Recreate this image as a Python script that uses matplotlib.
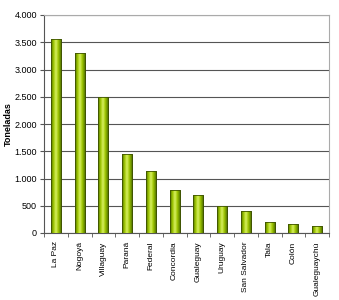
import numpy as np
import matplotlib.pyplot as plt
from matplotlib.colors import LinearSegmentedColormap
from matplotlib.ticker import FuncFormatter, FixedLocator

departamentos = ['La Paz', 'Nogoyá', 'Villaguay', 'Paraná', 'Federal', 'Concordia',
                 'Gualeguay', 'Uruguay', 'San Salvador', 'Tala', 'Colón', 'Gualeguaychú']
toneladas = [3560, 3300, 2500, 1450, 1145, 798, 695, 497, 400, 210, 165, 128]

plt.rcParams['font.family'] = ['Liberation Sans', 'DejaVu Sans']

fig = plt.figure(figsize=(3.39, 3.0), dpi=100)
ax = fig.add_axes([44 / 339, 1 - 233 / 300, (329 - 44) / 339, (233 - 15) / 300])

x = np.arange(len(departamentos))
width = 0.42
bars = ax.bar(x, toneladas, width=width, color='#7fa800', edgecolor='#3d5200',
              linewidth=0.6, zorder=3)

# horizontal gradient inside each bar
cmap = LinearSegmentedColormap.from_list('verde', ['#4f6e00', '#9cc400', '#d8f060', '#9cc400', '#5a7c00'])
grad = np.linspace(0, 1, 64).reshape(1, -1)
for b in bars:
    im = ax.imshow(grad, cmap=cmap, aspect='auto', zorder=3.5,
                   extent=[b.get_x(), b.get_x() + b.get_width(), 0, b.get_height()])
    im.set_clip_path(b)
    ax.bar(b.get_x() + b.get_width() / 2, b.get_height(), width=width, fill=False,
           edgecolor='#3d5200', linewidth=0.6, zorder=4)

ax.set_xlim(-0.5, len(departamentos) - 0.5)
ax.set_ylim(0, 4000)
ax.set_yticks(np.arange(0, 4001, 500))
ax.yaxis.set_major_formatter(FuncFormatter(lambda v, p: f'{int(v):,}'.replace(',', '.')))
ax.yaxis.grid(True, color='#555555', linewidth=0.8, zorder=0)

ax.set_xticks(x)
ax.set_xticklabels(departamentos, rotation=90, fontsize=6)
ax.tick_params(axis='x', length=0, pad=6)
ax.xaxis.set_minor_locator(FixedLocator(np.arange(-0.5, len(departamentos), 1)))
ax.tick_params(axis='x', which='minor', length=3, direction='out', color='#555555')
ax.tick_params(axis='y', labelsize=6.5, length=3, color='#555555', pad=2)

for s in ['top', 'right']:
    ax.spines[s].set_color('#aaaaaa')
    ax.spines[s].set_linewidth(0.8)
for s in ['left', 'bottom']:
    ax.spines[s].set_color('#555555')
    ax.spines[s].set_linewidth(0.8)

ax.set_ylabel('Toneladas', fontsize=6.5, fontweight='bold')
ax.yaxis.set_label_coords(-0.108, 0.5)

fig.savefig('out.png', dpi=100)
